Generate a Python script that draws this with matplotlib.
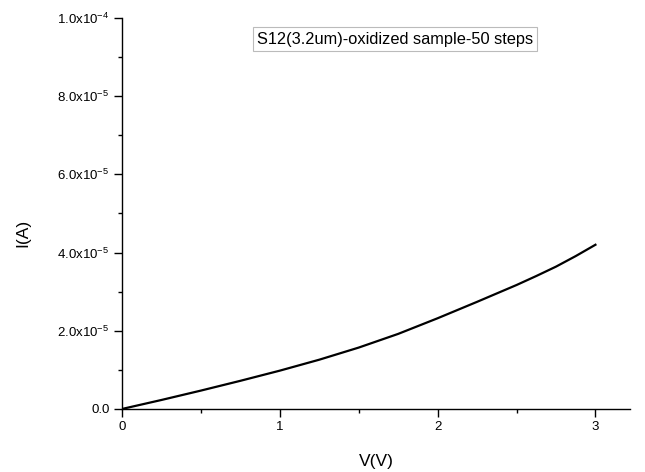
import matplotlib
matplotlib.use("Agg")
import matplotlib.pyplot as plt
from matplotlib.ticker import MultipleLocator

plt.rcParams['font.family'] = ['Liberation Sans', 'DejaVu Sans']
plt.rcParams['mathtext.fontset'] = 'custom'
plt.rcParams['mathtext.rm'] = 'Liberation Sans'
plt.rcParams['mathtext.it'] = 'Liberation Sans'

# Data
voltage = [0.0, 0.25, 0.5, 0.75, 1.0, 1.25, 1.5, 1.75, 2.0, 2.25, 2.5, 2.625, 2.75, 2.875, 3.0]
current_e5 = [0.0, 0.23, 0.47, 0.72, 0.98, 1.26, 1.57, 1.92, 2.32, 2.74, 3.17, 3.40, 3.64, 3.91, 4.20]
current = [c * 1e-5 for c in current_e5]

y_ticks = [0.0, 2e-5, 4e-5, 6e-5, 8e-5, 1e-4]
y_labels = ["0.0", r"2.0x10$^{-5}$", r"4.0x10$^{-5}$", r"6.0x10$^{-5}$", r"8.0x10$^{-5}$", r"1.0x10$^{-4}$"]
x_ticks = [0, 1, 2, 3]
title_text = "S12(3.2um)-oxidized sample-50 steps"

fig = plt.figure(figsize=(6.45, 4.72), dpi=100)
ax = fig.add_axes([0.189, 0.1335, 0.788, 0.8285])
ax.plot(voltage, current, color='black', lw=1.6)

ax.set_xlim(0, 3.22)
ax.set_ylim(0, 1e-4)
for s in ['top', 'right']:
    ax.spines[s].set_visible(False)
for s in ['left', 'bottom']:
    ax.spines[s].set_linewidth(1.0)

ax.set_xticks(x_ticks)
ax.set_xticklabels([str(t) for t in x_ticks])
ax.xaxis.set_minor_locator(MultipleLocator(0.5))
ax.set_yticks(y_ticks)
ax.set_yticklabels(y_labels)
ax.yaxis.set_minor_locator(MultipleLocator(1e-5))
ax.tick_params(which='major', direction='out', length=6, width=1, labelsize=9.5, pad=3)
ax.tick_params(which='minor', direction='out', length=3, width=1)

ax.set_xlabel("V(V)", fontsize=12.5)
ax.set_ylabel("I(A)", fontsize=12.5)
ax.xaxis.set_label_coords(0.501, -0.115)
ax.yaxis.set_label_coords(-0.18, 0.45)

ax.text(0.266, 0.946, title_text, transform=ax.transAxes, fontsize=11.8,
        ha='left', va='center',
        bbox=dict(boxstyle='square,pad=0.25', facecolor='white', edgecolor='#bbbbbb', lw=0.8))

fig.savefig("out.png", dpi=100)
